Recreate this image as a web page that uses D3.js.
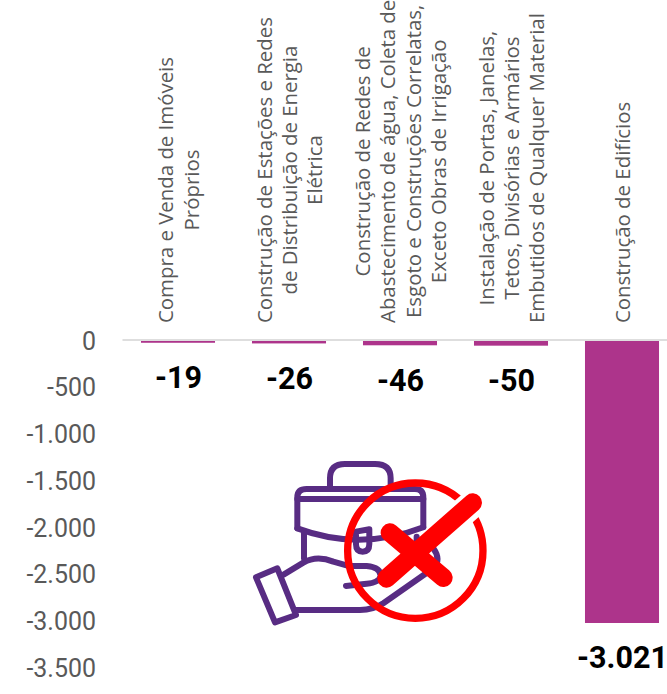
<!DOCTYPE html>
<html lang="pt-BR">
<head>
<meta charset="utf-8">
<script src="https://cdn.jsdelivr.net/npm/d3@7"></script>
<style>
  html, body { margin: 0; padding: 0; background: #fff; overflow: hidden; }
  svg { display: block; }
  .tick text { font-family: Roboto, sans-serif; font-size: 26px; fill: #595959; }
  .cat { font-family: "Open Sans", sans-serif; font-size: 20.4px; fill: #595959; }
  .val { font-family: Roboto, sans-serif; font-size: 30.5px; font-weight: 700; fill: #000; }
</style>
</head>
<body>
<svg id="chart" width="667" height="694"></svg>
<script>
// Data
const categories = [
  ["Compra e Venda de Imóveis", "Próprios"],
  ["Construção de Estações e Redes", "de Distribuição de Energia", "Elétrica"],
  ["Construção de Redes de", "Abastecimento de água, Coleta de", "Esgoto e Construções Correlatas,", "Exceto Obras de Irrigação"],
  ["Instalação de Portas, Janelas,", "Tetos, Divisórias e Armários", "Embutidos de Qualquer Material"],
  ["Construção de Edifícios"],
];
const values = [-19, -26, -46, -50, -3021];
const yTicks = [0, -500, -1000, -1500, -2000, -2500, -3000, -3500];

const ptBR = d3.formatLocale({ decimal: ",", thousands: ".", grouping: [3], currency: ["R$", ""], minus: "-" });
const formatNumber = ptBR.format(",d");

const svg = d3.select("#chart");

// Scales
const x = d3.scaleBand().domain(d3.range(values.length)).range([122.5, 677.5]).paddingInner(0.333).paddingOuter(0.1665);
const y = d3.scaleLinear().domain([0, -3500]).range([341, 667.7]);

// Y axis, digits narrowed a little towards the reference's condensed look
svg.append("g")
  .attr("transform", "translate(96,0)")
  .call(d3.axisLeft(y).tickValues(yTicks).tickSize(0).tickPadding(0).tickFormat(formatNumber))
  .call((g) => g.select(".domain").remove())
  .call((g) => g.selectAll(".tick text").attr("transform", "scale(0.96,1)"));

// Bars
svg.selectAll("rect.bar")
  .data(values)
  .join("rect")
  .attr("class", "bar")
  .attr("x", (d, i) => x(i))
  .attr("y", y(0))
  .attr("width", x.bandwidth())
  .attr("height", (d) => y(d) - y(0))
  .attr("fill", "#ad348b");

// Zero line
svg.append("line")
  .attr("x1", 122.5).attr("x2", 667)
  .attr("y1", y(0) - 1).attr("y2", y(0) - 1)
  .attr("stroke", "#dedede").attr("stroke-width", 2);

// Value labels
svg.selectAll("text.val")
  .data(values)
  .join("text")
  .attr("class", "val")
  .attr("x", (d, i) => x(i) + x.bandwidth() / 2 + 0.5)
  .attr("y", (d) => y(d) + 45.5)
  .attr("text-anchor", "middle")
  .text(formatNumber);

// Category labels, rotated, lines centred on the longest one
const lineGap = 25.2;
categories.forEach((lines, i) => {
  const g = svg.append("g")
    .attr("transform", `translate(${x(i) + x.bandwidth() / 2 + 1},323) rotate(-90)`);
  const texts = g.selectAll("text")
    .data(lines)
    .join("text")
    .attr("class", "cat")
    .attr("dy", (d, k) => (k - (lines.length - 1) / 2) * lineGap + 7)
    .attr("text-anchor", "middle")
    .text((d) => d);
  const longest = d3.max(texts.nodes(), (n) => n.getComputedTextLength());
  texts.attr("x", longest / 2);
});

// Icon: hand holding a briefcase, crossed out
const icon = svg.append("g")
  .attr("transform", "translate(220,440) scale(0.3333)")
  .attr("fill", "none")
  .attr("stroke-linecap", "round")
  .attr("stroke-linejoin", "round");

const purplePaths = [
  "M330,140 V115 Q330,72 375,72 H465 Q512,72 512,115 V140",
  "M232,265 V172 Q232,147 260,147 H585 Q610,147 610,172 V260",
  "M232,177 H610",
  "M232,265 Q420,335 610,262",
  "M252,280 V355",
  "M590,290 V310",
  "M408,275 V312 Q408,335 428,335 Q448,335 448,312 V268 Z",
  "M108,412 L172,385 L228,525 L165,547 Z",
  "M192,403 L250,368 Q290,345 340,365 L385,378 H440 Q482,382 482,408 Q478,428 440,431 L378,438",
  "M228,510 H420 Q460,510 490,490 L640,385 Q665,360 640,325",
];
icon.selectAll("path.purple")
  .data(purplePaths)
  .join("path")
  .attr("class", "purple")
  .attr("d", (d) => d)
  .attr("stroke", "#582c83")
  .attr("stroke-width", 18);

icon.append("circle")
  .attr("cx", 586).attr("cy", 332).attr("r", 203)
  .attr("stroke", "#ff0000").attr("stroke-width", 22);

// white casing only where the long stroke crosses the circle
icon.append("path")
  .attr("d", "M800,155 L690,250")
  .attr("stroke", "#fff").attr("stroke-width", 84).attr("stroke-linecap", "butt");
icon.append("path")
  .attr("d", "M510,278 L670,413 M758,188 L500,415")
  .attr("stroke", "#ff0000").attr("stroke-width", 56);
</script>
</body>
</html>
